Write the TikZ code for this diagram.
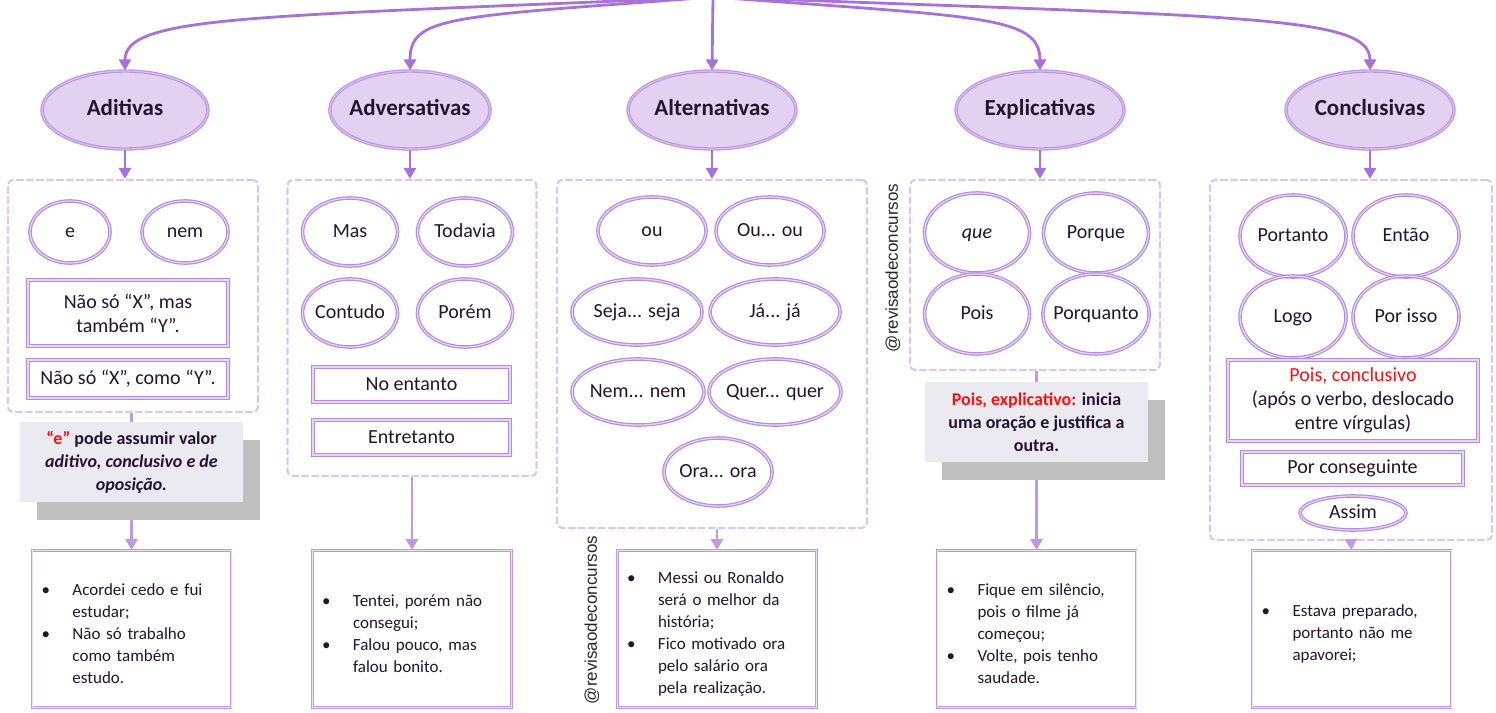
\documentclass[tikz,border=0pt]{standalone}
\usepackage{fontspec}
\setmainfont{Carlito}
\newfontfamily\wmfont{Liberation Sans}
\usepackage{tikz}
\usetikzlibrary{shapes.geometric,arrows.meta,shadows}
\definecolor{linecol}{HTML}{A672D8}
\definecolor{lightline}{HTML}{BE9AE4}
\definecolor{catfill}{HTML}{E3D1F2}
\definecolor{catline}{HTML}{BC95E0}
\definecolor{conjline}{HTML}{B58CDD}
\definecolor{dashcol}{HTML}{D8C6EE}
\definecolor{notefill}{HTML}{ECEAF1}
\definecolor{shadecol}{HTML}{BFBFBF}
\definecolor{inkcol}{HTML}{23142F}
\definecolor{redcol}{HTML}{FF1010}
\newcommand\bul[1]{\par\noindent\hangindent=31pt\hangafter=1\makebox[31pt][l]{\textbullet}#1\par}
\tikzset{
  every node/.style={text=inkcol},
  cat/.style={ellipse,fill=catfill,draw=catline,double=catfill!70!catline,double distance=1.2pt,line width=1.1pt,
    inner sep=0pt,inner xsep=-4pt,text height=16pt,text depth=5pt,
    minimum width=166,minimum height=78,font=\fontsize{23}{26}\selectfont\bfseries},
  conj/.style={ellipse,draw=conjline,double=conjline!35,double distance=1.2pt,line width=1.2pt,
    inner sep=0pt,inner xsep=-5pt,text height=14pt,text depth=4pt,
    minimum width=100,minimum height=66,font=\fontsize{20}{23}\selectfont},
  rbox/.style={rectangle,draw=conjline,double=conjline!35,double distance=1.2pt,line width=1.2pt,align=center,
    font=\fontsize{20}{24}\selectfont},
  grp/.style={rectangle,draw=dashcol,line width=2.2pt,dash pattern=on 6pt off 4pt,line cap=round,rounded corners=5pt,inner sep=0pt},
  note/.style={rectangle,fill=notefill,align=center,minimum width=223,minimum height=80,
    font=\fontsize{18}{23}\selectfont\bfseries,
    drop shadow={shadow xshift=17pt,shadow yshift=-18pt,fill=shadecol,opacity=1}},
  ex/.style={rectangle,draw=lightline,double=lightline!30,double distance=1pt,line width=0.9pt,
    minimum width=199,minimum height=157,text width=180pt,align=left,font=\fontsize{17}{22}\selectfont},
  arr/.style={draw=linecol,line width=2.8pt,-{Triangle[width=12pt,length=11pt]}},
  arrlight/.style={draw=lightline,line width=2.8pt,-{Triangle[width=12pt,length=11pt]}},
  link/.style={draw=lightline,line width=2.8pt},
  wm/.style={rotate=90,font=\wmfont\fontsize{17}{20}\selectfont,text=black!85}
}
\begin{document}
\begin{tikzpicture}[x=1pt,y=-1pt]
\useasboundingbox (0,0) rectangle (1496,712);
%
\coordinate (root) at (713,-3);
%
\node [cat] (adit) at (125,110) {Aditivas};
\node [cat,minimum width=158] (adver) at (410,110) {Adversativas};
\node [cat,minimum width=168] (alter) at (712,110) {Alternativas};
\node [cat,minimum width=168] (expli) at (1040,110) {Explicativas};
\node [cat,minimum width=168] (concl) at (1370,110) {Conclusivas};
%
\node [grp,minimum width=250,minimum height=232] (g1) at (133,296) {};
\node [grp,minimum width=249,minimum height=296] (g2) at (412,328) {};
\node [grp,minimum width=310,minimum height=348] (g3) at (712,354) {};
\node [grp,minimum width=250,minimum height=190] (g4) at (1035,275) {};
\node [grp,minimum width=282,minimum height=360] (g5) at (1351,360) {};
%
\draw [arr] (root) .. controls +(-463,20) and +(0,-55) .. (adit.north);
\draw [arr] (root) .. controls +(-263,20) and +(0,-55) .. (adver.north);
\draw [arr] (root) -- (alter.north);
\draw [arr] (root) .. controls +(267,20) and +(0,-55) .. (expli.north);
\draw [arr] (root) .. controls +(537,20) and +(0,-55) .. (concl.north);
%
\draw [arr] (adit.south) -- (adit.south |- g1.north);
\draw [arr] (adver.south) -- (adver.south |- g2.north);
\draw [arr] (alter.south) -- (alter.south |- g3.north);
\draw [arr] (expli.south) -- (expli.south |- g4.north);
\draw [arr] (concl.south) -- (concl.south |- g5.north);
%
\node [conj,minimum width=80,minimum height=62] (e) at (70,232) {e};
\node [conj,minimum width=86,minimum height=62] (nem) at (185,232) {nem};
\node [rbox,minimum width=200,minimum height=66] (naomas) at (128,313) {Não só “X”, mas\\também “Y”.};
\node [rbox,minimum width=200,minimum height=38] (naocomo) at (128,379) {Não só “X”, como “Y”.};
\node [note] (note1) at (131.5,462) {\textcolor{redcol}{“e”} pode assumir valor\\\textit{aditivo, conclusivo e de}\\\textit{oposição.}};
\node [ex] (ex1) at (131.5,629) {\bul{Acordei cedo e fui\newline estudar;}\bul{Não só trabalho\newline como também\newline estudo.}};
\draw [link] (g1.south -| note1.north) -- (note1.north);
\draw [arrlight] ([yshift=-18pt]note1.south) -- (ex1.north);
%
\node [conj,minimum width=95,minimum height=68] (mas) at (350,232) {Mas};
\node [conj,minimum width=95,minimum height=68] (todavia) at (465,232) {Todavia};
\node [conj,minimum width=95,minimum height=68] (contudo) at (350,313) {Contudo};
\node [conj,minimum width=95,minimum height=68] (porem) at (465,313) {Porém};
\node [rbox,minimum width=197,minimum height=35] (noentanto) at (411.5,384.5) {No entanto};
\node [rbox,minimum width=197,minimum height=35] (entretanto) at (411.5,437.5) {Entretanto};
\node [ex] (ex2) at (412,629) {\bul{Tentei, porém não\newline consegui;}\bul{Falou pouco, mas\newline falou bonito.}};
\draw [arrlight] (g2.south) -- (ex2.north);
%
\node [conj,minimum width=108,minimum height=68] (ou) at (652,231) {ou};
\node [conj,minimum width=108,minimum height=68] (ouou) at (770,231) {Ou... ou};
\node [conj,minimum width=130,minimum height=66] (seja) at (637,312) {Seja... seja};
\node [conj,minimum width=130,minimum height=66] (ja) at (775,312) {Já... já};
\node [conj,minimum width=132,minimum height=66] (nemnem) at (638,392) {Nem... nem};
\node [conj,minimum width=132,minimum height=66] (quer) at (775,392) {Quer... quer};
\node [conj,minimum width=108,minimum height=68] (ora) at (718,472) {Ora... ora};
\node [ex] (ex3) at (717,629) {\bul{Messi ou Ronaldo\newline será o melhor da\newline história;}\bul{Fico motivado ora\newline pelo salário ora\newline pela realização.}};
\draw [arrlight] (ex3.north |- g3.south) -- (ex3.north);
\node [wm] (wm1) at (592,620) {@revisaodeconcursos};
%
\node [conj,minimum width=105,minimum height=80] (que) at (977,233) {\textit{que}};
\node [conj,minimum width=105,minimum height=80] (porque) at (1096,233) {Porque};
\node [conj,minimum width=105,minimum height=80] (pois) at (977,314) {Pois};
\node [conj,minimum width=105,minimum height=80] (porquanto) at (1096,314) {Porquanto};
\node [note] (note4) at (1036.5,422) {\textcolor{redcol}{Pois, explicativo:} inicia\\uma oração e justifica a\\outra.};
\node [ex] (ex4) at (1036.5,629) {\bul{Fique em silêncio,\newline pois o filme já\newline começou;}\bul{Volte, pois tenho\newline saudade.}};
\draw [link] (g4.south -| note4.north) -- (note4.north);
\draw [arrlight] ([yshift=-18pt]note4.south) -- (ex4.north);
\node [wm] (wm2) at (893,268) {@revisaodeconcursos};
%
\node [conj,minimum width=106,minimum height=82] (portanto) at (1293,236) {Portanto};
\node [conj,minimum width=106,minimum height=82] (entao) at (1406,236) {Então};
\node [conj,minimum width=106,minimum height=82] (logo) at (1293,317) {Logo};
\node [conj,minimum width=106,minimum height=82] (porisso) at (1406,317) {Por isso};
\node [rbox,minimum width=250,minimum height=81] (poisconc) at (1353,400.5) {\textcolor{redcol}{Pois, conclusivo}\\(após o verbo, deslocado\\entre vírgulas)};
\node [rbox,minimum width=221,minimum height=33] (porconseg) at (1352.5,468.5) {Por conseguinte};
\node [conj,minimum width=106,minimum height=34] (assim) at (1353,513) {Assim};
\node [ex] (ex5) at (1351.5,629) {\bul{Estava preparado,\newline portanto não me\newline apavorei;}};
\draw [arrlight] (g5.south) -- (ex5.north);
\end{tikzpicture}
\end{document}
